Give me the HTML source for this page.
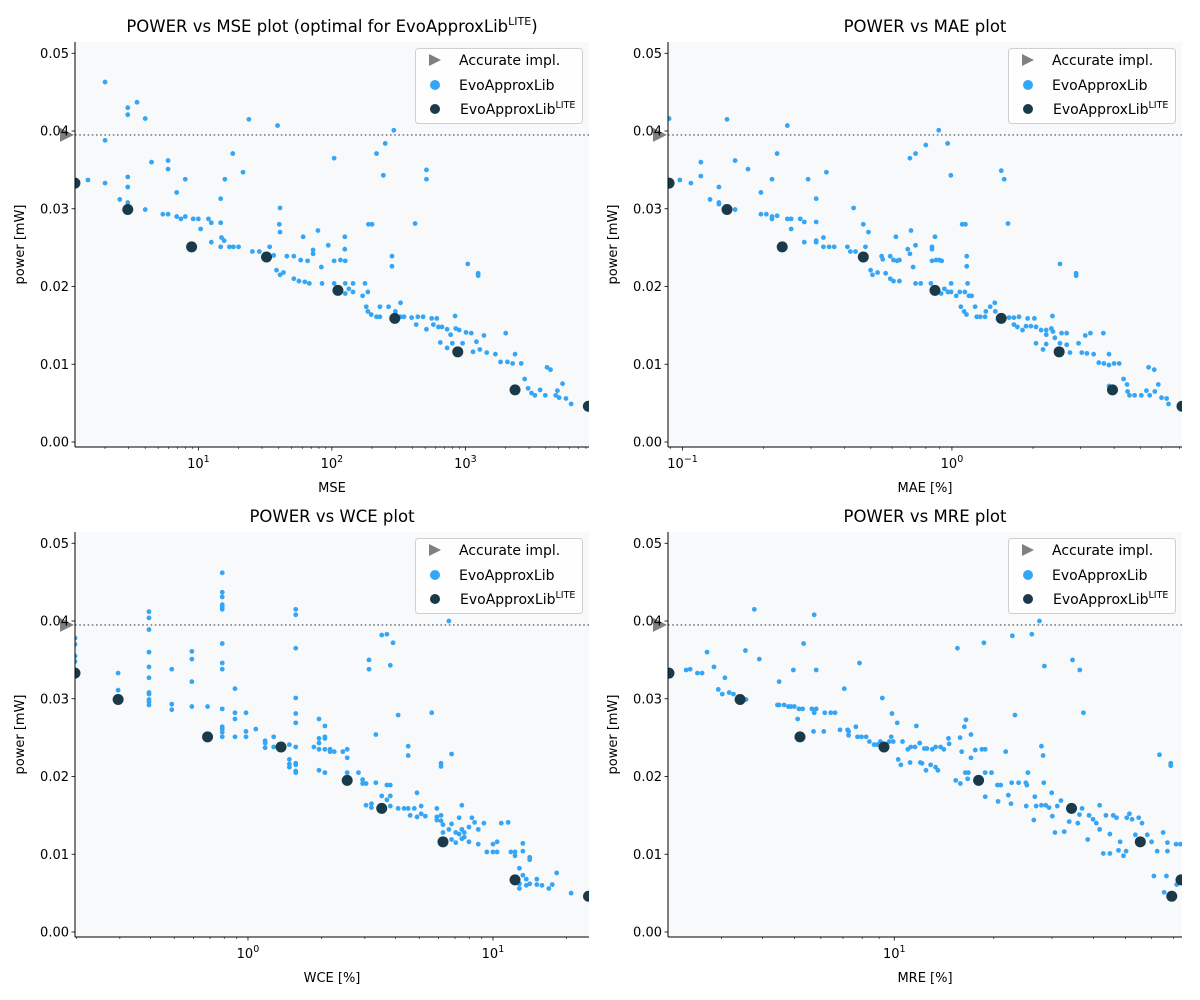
<!DOCTYPE html>
<html><head><meta charset="utf-8">
<style>
html,body{margin:0;padding:0;background:#fff;}
svg{display:block;font-family:"DejaVu Sans","Liberation Sans",sans-serif;}
</style></head>
<body>
<svg id="fig" width="1200" height="1000" viewBox="0 0 1200 1000" xmlns="http://www.w3.org/2000/svg"></svg>
<script>
// ---------- DATA ----------
const accuratePower = 0.0395;
const litePower = [0.0333,0.0299,0.0251,0.0238,0.0195,0.0159,0.0116,0.0067,0.0046];
const liteMSE = [1.19,2.96,8.9,32.4,111,296,877,2355,8340];
const liteMAElog10 = [-1.050,-0.835,-0.630,-0.329,-0.063,0.183,0.398,0.596,0.854];
const liteWCElog10 = [-0.706,-0.530,-0.165,0.135,0.405,0.546,0.796,1.090,1.390];
const liteMRElog10 = [0.319,0.534,0.715,0.969,1.255,1.536,1.744,1.867,1.839];

const evoMSE = [[2.0,.0463],[2.0,.0388],[2.0,.0333],[2.96,.0430],[2.96,.0421],[3.47,.0437],[4.0,.0416],[2.96,.0341],[2.96,.0328],[2.96,.0308],[2.58,.0312],[1.49,.0337],[4.0,.0299],[4.46,.0360],[5.93,.0362],[5.93,.0351],[6.88,.0321],[7.98,.0338],[5.42,.0293],[5.93,.0293],[6.88,.0290],[7.4,.0287],[7.98,.0290],[9.15,.0287],[10,.0287],[10.4,.0274],[11.9,.0287],[12.5,.0282],[14.7,.0282],[12.5,.0257],[14.7,.0313],[15.8,.0338],[18.1,.0371],[21.6,.0347],[23.9,.0415],[14.9,.0263],[15.6,.0259],[14.7,.0251],[17.1,.0251],[18.3,.0251],[20,.0251],[25.4,.0245],[28.6,.0245],[34.2,.0251],[36.7,.0240],[39.2,.0407],[40.9,.0301],[40.4,.0280],[40.9,.0270],[38.5,.0221],[40.9,.0215],[43.4,.0218],[46,.0239],[51.9,.0239],[58.4,.0234],[65.8,.0233],[60.9,.0264],[72.3,.0247],[72.3,.0242],[78.6,.0272],[83.4,.0225],[51.9,.0210],[56.7,.0207],[62.7,.0206],[67.8,.0204],[84.4,.0204],[94,.0253],[104,.0365],[104,.0233],[116,.0234],[125,.0264],[125,.0248],[126,.0233],[104,.0204],[126,.0204],[134,.0197],[126,.0191],[144,.0204],[144,.0193],[170,.0188],[177,.0204],[186,.0193],[188,.0280],[200,.0280],[181,.0174],[186,.0168],[197,.0164],[216,.0371],[216,.0161],[229,.0161],[229,.0174],[266,.0174],[243,.0343],[251,.0384],[282,.0239],[282,.0226],[299,.0168],[327,.0179],[327,.0161],[291,.0401],[347,.0161],[396,.0160],[420,.0281],[440,.0161],[482,.0161],[511,.0350],[511,.0338],[428,.0151],[511,.0145],[559,.0159],[611,.0159],[576,.0151],[629,.0148],[668,.0148],[730,.0145],[649,.0128],[730,.0121],[775,.0138],[798,.0127],[837,.0162],[847,.0146],[899,.0144],[953,.0127],[1042,.0229],[1012,.0141],[1107,.0140],[1140,.0116],[1210,.0129],[1246,.0217],[1246,.0214],[1283,.0119],[1377,.0137],[1445,.0115],[1678,.0113],[1834,.0103],[2005,.0140],[2065,.0103],[2259,.0101],[2355,.0113],[2620,.0101],[2780,.0081],[2950,.0069],[3128,.0063],[3318,.0060],[3630,.0067],[3970,.0060],[4090,.0096],[4340,.0093],[4750,.0060],[4890,.0066],[5035,.0057],[5345,.0075],[5670,.0056],[6200,.0049]];

const evoMAElog10 = [[-1.050,.0416],[-0.835,.0415],[-0.611,.0407],[-0.049,.0401],[-0.016,.0384],[-0.097,.0382],[-0.135,.0371],[-0.156,.0365],[-0.649,.0371],[-0.932,.0360],[-0.805,.0362],[-0.757,.0351],[-0.466,.0347],[-0.004,.0343],[-1.010,.0337],[-0.969,.0333],[-0.932,.0342],[-0.865,.0328],[-0.668,.0338],[-0.534,.0338],[0.183,.0349],[0.194,.0338],[-0.709,.0321],[-0.898,.0312],[-0.865,.0308],[-0.865,.0306],[-0.805,.0299],[-0.504,.0313],[-0.365,.0301],[-0.709,.0293],[-0.689,.0293],[-0.668,.0290],[-0.649,.0291],[-0.668,.0287],[-0.611,.0287],[-0.597,.0287],[-0.563,.0287],[-0.548,.0283],[-0.504,.0283],[-0.597,.0274],[-0.329,.0280],[-0.310,.0270],[-0.152,.0272],[0.038,.0280],[0.050,.0280],[0.208,.0281],[-0.548,.0257],[-0.504,.0259],[-0.504,.0257],[-0.477,.0263],[-0.477,.0251],[-0.456,.0251],[-0.437,.0251],[-0.388,.0251],[-0.377,.0245],[-0.358,.0245],[-0.321,.0251],[-0.261,.0239],[-0.257,.0235],[-0.229,.0239],[-0.217,.0234],[-0.204,.0233],[-0.195,.0234],[-0.208,.0264],[-0.164,.0248],[-0.156,.0242],[-0.135,.0253],[-0.144,.0225],[-0.302,.0221],[-0.295,.0215],[-0.276,.0218],[-0.246,.0217],[-0.229,.0210],[-0.217,.0207],[-0.195,.0207],[-0.135,.0204],[-0.116,.0204],[-0.074,.0251],[-0.074,.0248],[-0.063,.0264],[-0.074,.0233],[-0.059,.0234],[-0.047,.0234],[-0.038,.0233],[-0.078,.0204],[-0.040,.0191],[-0.028,.0197],[-0.015,.0193],[-0.003,.0193],[-0.003,.0204],[0.016,.0188],[0.029,.0193],[0.058,.0204],[0.048,.0193],[0.063,.0188],[0.073,.0188],[0.055,.0239],[0.055,.0226],[0.401,.0229],[0.461,.0217],[0.461,.0214],[0.033,.0174],[0.045,.0168],[0.054,.0164],[0.086,.0174],[0.092,.0161],[0.105,.0161],[0.126,.0168],[0.142,.0174],[0.159,.0179],[0.161,.0168],[0.123,.0161],[0.212,.0160],[0.230,.0160],[0.249,.0161],[0.281,.0159],[0.306,.0159],[0.230,.0151],[0.243,.0148],[0.262,.0144],[0.275,.0149],[0.293,.0149],[0.312,.0148],[0.331,.0144],[0.350,.0144],[0.373,.0162],[0.369,.0146],[0.375,.0142],[0.350,.0138],[0.312,.0127],[0.338,.0119],[0.350,.0126],[0.382,.0134],[0.407,.0140],[0.426,.0140],[0.401,.0127],[0.426,.0125],[0.438,.0115],[0.470,.0127],[0.482,.0115],[0.495,.0137],[0.514,.0140],[0.501,.0114],[0.526,.0113],[0.545,.0102],[0.564,.0101],[0.583,.0099],[0.583,.0113],[0.602,.0101],[0.621,.0101],[0.562,.0140],[0.637,.0081],[0.650,.0074],[0.652,.0065],[0.659,.0060],[0.678,.0060],[0.703,.0060],[0.722,.0066],[0.734,.0060],[0.753,.0065],[0.766,.0074],[0.730,.0096],[0.751,.0093],[0.778,.0057],[0.797,.0056],[0.804,.0049],[0.583,.0072]];

const evoWCElog10 = [[-0.706,.0378],[-0.706,.0370],[-0.706,.0355],[-0.706,.0348],[-0.530,.0333],[-0.530,.0311],[-0.404,.0412],[-0.404,.0404],[-0.404,.0389],[-0.404,.0360],[-0.404,.0341],[-0.404,.0327],[-0.404,.0308],[-0.404,.0306],[-0.404,.0299],[-0.404,.0296],[-0.404,.0292],[-0.311,.0338],[-0.311,.0293],[-0.311,.0286],[-0.229,.0361],[-0.229,.0351],[-0.229,.0322],[-0.229,.0290],[-0.165,.0290],[-0.105,.0462],[-0.105,.0437],[-0.105,.0431],[-0.105,.0421],[-0.105,.0418],[-0.105,.0415],[-0.105,.0371],[-0.105,.0346],[-0.105,.0338],[-0.105,.0287],[-0.105,.0264],[-0.105,.0261],[-0.105,.0257],[-0.105,.0251],[-0.053,.0313],[-0.053,.0282],[-0.053,.0274],[-0.053,.0251],[-0.008,.0282],[-0.008,.0258],[-0.008,.0251],[0.032,.0261],[0.070,.0246],[0.070,.0243],[0.070,.0237],[0.105,.0251],[0.105,.0238],[0.169,.0241],[0.169,.0222],[0.169,.0216],[0.169,.0212],[0.195,.0415],[0.195,.0408],[0.195,.0365],[0.195,.0301],[0.195,.0281],[0.195,.0269],[0.195,.0238],[0.195,.0217],[0.195,.0215],[0.195,.0207],[0.195,.0205],[0.269,.0238],[0.290,.0274],[0.290,.0249],[0.290,.0243],[0.290,.0235],[0.290,.0208],[0.314,.0265],[0.314,.0251],[0.314,.0249],[0.314,.0235],[0.314,.0205],[0.335,.0235],[0.335,.0232],[0.352,.0232],[0.387,.0232],[0.405,.0235],[0.405,.0224],[0.405,.0205],[0.451,.0205],[0.468,.0196],[0.468,.0191],[0.482,.0191],[0.482,.0163],[0.494,.0350],[0.494,.0338],[0.504,.0165],[0.504,.0160],[0.522,.0254],[0.522,.0192],[0.546,.0382],[0.546,.0175],[0.567,.0383],[0.567,.0189],[0.567,.0170],[0.581,.0343],[0.581,.0189],[0.581,.0175],[0.581,.0162],[0.592,.0372],[0.613,.0279],[0.613,.0159],[0.637,.0159],[0.654,.0239],[0.654,.0227],[0.654,.0159],[0.662,.0150],[0.679,.0159],[0.690,.0179],[0.690,.0148],[0.707,.0162],[0.707,.0152],[0.724,.0149],[0.750,.0282],[0.771,.0159],[0.771,.0148],[0.771,.0144],[0.788,.0217],[0.788,.0213],[0.788,.0150],[0.788,.0143],[0.796,.0138],[0.796,.0128],[0.820,.0400],[0.820,.0132],[0.831,.0229],[0.831,.0139],[0.831,.0119],[0.848,.0128],[0.848,.0115],[0.862,.0147],[0.862,.0126],[0.873,.0163],[0.873,.0132],[0.873,.0120],[0.883,.0128],[0.883,.0122],[0.902,.0135],[0.902,.0116],[0.914,.0147],[0.925,.0141],[0.940,.0132],[0.940,.0113],[0.963,.0140],[0.975,.0103],[1.000,.0113],[1.000,.0103],[1.017,.0116],[1.017,.0103],[1.034,.0140],[1.062,.0141],[1.073,.0103],[1.090,.0103],[1.090,.0098],[1.108,.0082],[1.108,.0062],[1.108,.0056],[1.122,.0114],[1.122,.0104],[1.122,.0073],[1.136,.0068],[1.136,.0060],[1.150,.0096],[1.150,.0093],[1.150,.0062],[1.179,.0068],[1.179,.0061],[1.200,.0060],[1.228,.0056],[1.242,.0061],[1.260,.0076],[1.319,.0050]];

const evoMRElog10 = [[0.577,.0415],[0.758,.0408],[1.439,.0400],[1.357,.0381],[1.416,.0383],[1.191,.0365],[1.271,.0372],[0.726,.0371],[0.550,.0362],[0.434,.0360],[0.592,.0351],[0.895,.0346],[1.454,.0342],[1.539,.0350],[1.561,.0337],[0.371,.0337],[0.383,.0338],[0.405,.0333],[0.419,.0333],[0.455,.0341],[0.488,.0327],[0.695,.0337],[0.764,.0337],[0.652,.0322],[0.849,.0313],[0.468,.0312],[0.480,.0306],[0.501,.0308],[0.514,.0306],[0.552,.0299],[0.964,.0301],[0.647,.0292],[0.652,.0292],[0.667,.0292],[0.680,.0290],[0.688,.0290],[0.698,.0290],[0.712,.0287],[0.723,.0287],[0.751,.0287],[0.764,.0287],[0.758,.0282],[0.790,.0282],[0.808,.0282],[0.821,.0282],[1.365,.0279],[1.572,.0282],[0.708,.0274],[0.993,.0281],[1.009,.0269],[1.217,.0273],[1.067,.0265],[0.884,.0264],[0.756,.0258],[0.787,.0258],[0.836,.0260],[0.859,.0260],[0.862,.0258],[0.862,.0253],[0.889,.0251],[0.901,.0251],[0.915,.0251],[0.925,.0245],[0.939,.0241],[0.948,.0241],[0.958,.0245],[0.985,.0245],[0.991,.0251],[0.997,.0245],[1.025,.0245],[1.041,.0235],[1.050,.0238],[1.063,.0238],[1.077,.0243],[1.091,.0236],[1.099,.0236],[1.115,.0235],[1.125,.0238],[1.140,.0238],[1.150,.0235],[1.164,.0249],[1.166,.0242],[1.199,.0250],[1.212,.0264],[1.232,.0254],[1.204,.0232],[1.232,.0224],[1.245,.0234],[1.265,.0235],[1.275,.0235],[1.337,.0232],[1.012,.0222],[1.020,.0215],[1.048,.0218],[1.079,.0218],[1.084,.0217],[1.096,.0208],[1.110,.0215],[1.125,.0212],[1.132,.0208],[1.186,.0195],[1.200,.0191],[1.215,.0205],[1.224,.0205],[1.222,.0197],[1.248,.0197],[1.275,.0205],[1.294,.0205],[1.275,.0174],[1.312,.0189],[1.322,.0189],[1.314,.0168],[1.345,.0176],[1.353,.0165],[1.355,.0192],[1.376,.0192],[1.398,.0192],[1.404,.0205],[1.401,.0189],[1.399,.0162],[1.425,.0174],[1.429,.0162],[1.445,.0163],[1.458,.0163],[1.468,.0160],[1.422,.0144],[1.452,.0192],[1.445,.0239],[1.450,.0227],[1.476,.0179],[1.478,.0149],[1.493,.0162],[1.504,.0169],[1.486,.0128],[1.514,.0129],[1.529,.0142],[1.555,.0140],[1.560,.0151],[1.568,.0159],[1.585,.0119],[1.589,.0150],[1.601,.0145],[1.611,.0140],[1.621,.0163],[1.621,.0132],[1.632,.0101],[1.640,.0150],[1.652,.0126],[1.652,.0101],[1.662,.0150],[1.672,.0147],[1.678,.0105],[1.683,.0116],[1.693,.0098],[1.701,.0104],[1.703,.0147],[1.711,.0152],[1.719,.0145],[1.729,.0125],[1.739,.0147],[1.749,.0140],[1.765,.0125],[1.778,.0116],[1.785,.0072],[1.795,.0104],[1.802,.0228],[1.813,.0128],[1.823,.0072],[1.826,.0115],[1.826,.0104],[1.836,.0217],[1.836,.0214],[1.852,.0113],[1.865,.0113],[1.816,.0051],[1.854,.0061]];

const yTicks = [0.00,0.01,0.02,0.03,0.04,0.05];
const yTickLabels = ["0.00","0.01","0.02","0.03","0.04","0.05"];
const yMin = -0.000643, yMax = 0.05145;

// ---------- DRAW ----------
const NS = "http://www.w3.org/2000/svg";
const svg = document.getElementById('fig');
function mk(tag, attrs, parent){
  const e = document.createElementNS(NS, tag);
  for (const k in attrs) e.setAttribute(k, attrs[k]);
  (parent||svg).appendChild(e);
  return e;
}
const BLUE = "#35a5f5", DARK = "#1a3a4a", GRAY = "#808080";

function panel(cfg){
  const g = mk('g', {});
  
  
  const W = 514, H = 405, ox = cfg.ox, oy = cfg.oy;
  const sx = L => ox + (L - cfg.lmin) / (cfg.lmax - cfg.lmin) * W;
  const sy = p => oy + H - (p - yMin) / (yMax - yMin) * H;

  const bg = mk('rect', {x:ox, y:oy, width:W, height:H, fill:'#f8f9fb'}, g);
  
  

  const clipId = cfg.name + '-clip';
  const cp = mk('clipPath', {id: clipId}, g);
  mk('rect', {x:ox, y:oy, width:W, height:H}, cp);

  const ln = mk('line', {x1:ox, x2:ox+W, y1:sy(accuratePower), y2:sy(accuratePower), stroke:GRAY, 'stroke-width':1.6, 'stroke-dasharray':'1.6,2.6'}, g);
  
  

  const pts = mk('g', {'clip-path':'url(#'+clipId+')'}, g);
  
  
  cfg.evo.forEach(d => {
    const c = mk('circle', {cx:sx(cfg.toLog(d[0])), cy:sy(d[1]), r:2.4, fill:BLUE}, pts);
    
    
  });
  const lite = mk('g', {'clip-path':'url(#'+clipId+')'}, g);
  
  
  cfg.liteX.forEach((x, i) => {
    const c = mk('circle', {cx:sx(cfg.toLog(x)), cy:sy(litePower[i]), r:5.5, fill:DARK}, lite);
    
    
  });
  const ty = sy(accuratePower), tx = ox - 8;
  const tri = mk('polygon', {points:`${tx-7},${ty-7} ${tx+7},${ty} ${tx-7},${ty+7}`, fill:GRAY}, g);
  
  

  mk('line', {x1:ox, x2:ox, y1:oy, y2:oy+H, stroke:'#000', 'stroke-width':1}, g);
  mk('line', {x1:ox, x2:ox+W, y1:oy+H, y2:oy+H, stroke:'#000', 'stroke-width':1}, g);

  yTicks.forEach((t, i) => {
    const y = sy(t);
    mk('line', {x1:ox-3.5, x2:ox, y1:y, y2:y, stroke:'#000', 'stroke-width':0.8}, g);
    const tx2 = mk('text', {x:ox-6, y:y+4.5, 'font-size':13, 'text-anchor':'end', fill:'#000'}, g);
    tx2.textContent = yTickLabels[i];
    
    
  });
  for (let e = Math.floor(cfg.lmin); e <= Math.ceil(cfg.lmax); e++){
    for (let m = 1; m <= 9; m++){
      const L = e + Math.log10(m);
      if (L < cfg.lmin - 1e-9 || L > cfg.lmax + 1e-9) continue;
      const x = sx(L);
      mk('line', {x1:x, x2:x, y1:oy+H, y2:oy+H+(m===1?3.5:2), stroke:'#000', 'stroke-width':m===1?0.8:0.6}, g);
      if (m === 1){
        const t = mk('text', {x:x, y:oy+H+21, 'font-size':13, 'text-anchor':'middle', fill:'#000'}, g);
        
        
        const a = mk('tspan', {}, t); a.textContent = '10';
        const b = mk('tspan', {dy:-6, 'font-size':9.5}, t); b.textContent = (e < 0 ? '\u2212' + (-e) : String(e));
      }
    }
  }
  const xl = mk('text', {x:ox+W/2, y:oy+H+45, 'font-size':13, 'text-anchor':'middle'}, g);
  xl.textContent = cfg.xlabel;
  
  
  const ylx = ox - 51, yly = oy + H/2;
  const yl = mk('text', {x:ylx, y:yly, 'font-size':13, 'text-anchor':'middle', transform:`rotate(-90 ${ylx} ${yly})`}, g);
  yl.textContent = 'power [mW]';
  
  
  const tt = mk('text', {x:ox+W/2, y:oy-10, 'font-size':16.5, 'text-anchor':'middle'}, g);
  
  
  const t1 = mk('tspan', {}, tt); t1.textContent = cfg.title;
  if (cfg.titleSup){
    const t2 = mk('tspan', {dy:-7, 'font-size':11}, tt); t2.textContent = 'LITE';
    const t3 = mk('tspan', {dy:7}, tt); t3.textContent = ')';
  }
  const lx = ox + W - 174, ly = oy + 6;
  const lg = mk('g', {}, g);
  
  
  mk('rect', {x:lx+0.5, y:ly+0.5, width:167, height:75, rx:3, fill:'#fff', 'fill-opacity':0.8, stroke:'#d0d0d0'}, lg);
  const mx = lx + 20;
  mk('polygon', {points:`${mx-6},${ly+6} ${mx+6},${ly+12} ${mx-6},${ly+18}`, fill:GRAY}, lg);
  mk('circle', {cx:mx, cy:ly+37, r:5, fill:BLUE}, lg);
  mk('circle', {cx:mx, cy:ly+61, r:5, fill:DARK}, lg);
  const e1 = mk('text', {x:lx+44, y:ly+17, 'font-size':14}, lg); e1.textContent = 'Accurate impl.';
   
  const e2 = mk('text', {x:lx+44, y:ly+42, 'font-size':14}, lg); e2.textContent = 'EvoApproxLib';
   
  const e3 = mk('text', {x:lx+45, y:ly+66, 'font-size':14}, lg);
   
  const s1 = mk('tspan', {}, e3); s1.textContent = 'EvoApproxLib';
  const s2 = mk('tspan', {dy:-6, 'font-size':9.5}, e3); s2.textContent = 'LITE';
}

panel({name:'mse-panel', ox:75, oy:42, lmin:0.076, lmax:3.926, evo:evoMSE, liteX:liteMSE, toLog:v=>Math.log10(v),
  title:'POWER vs MSE plot (optimal for EvoApproxLib', titleSup:true, xlabel:'MSE'});
panel({name:'mae-panel', ox:668, oy:42, lmin:-1.054, lmax:0.854, evo:evoMAElog10, liteX:liteMAElog10, toLog:v=>v,
  title:'POWER vs MAE plot', xlabel:'MAE [%]'});
panel({name:'wce-panel', ox:75, oy:532, lmin:-0.706, lmax:1.392, evo:evoWCElog10, liteX:liteWCElog10, toLog:v=>v,
  title:'POWER vs WCE plot', xlabel:'WCE [%]'});
panel({name:'mre-panel', ox:668, oy:532, lmin:0.316, lmax:1.870, evo:evoMRElog10, liteX:liteMRElog10, toLog:v=>v,
  title:'POWER vs MRE plot', xlabel:'MRE [%]'});
</script>
</body></html>
